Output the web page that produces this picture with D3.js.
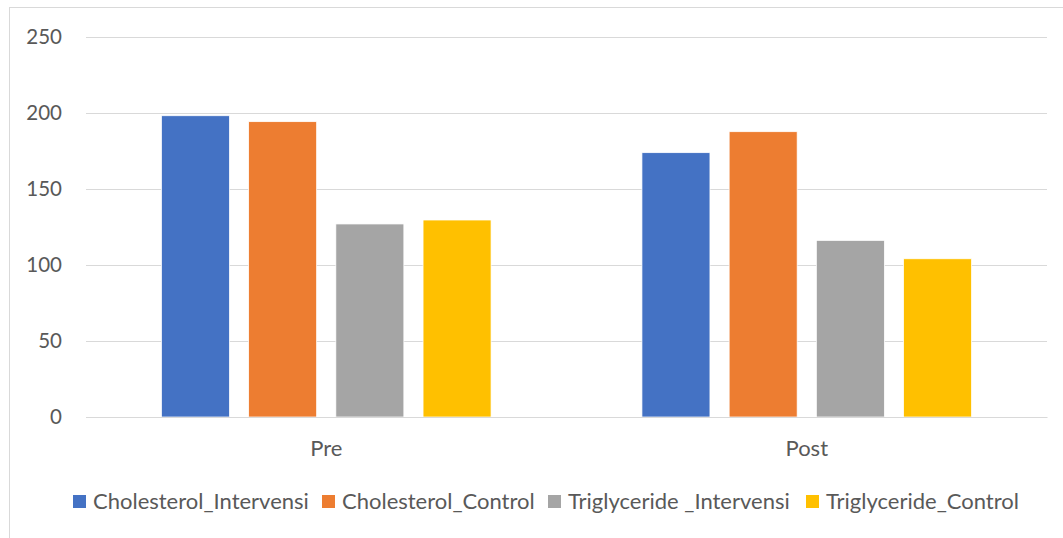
<!DOCTYPE html>
<html><head><meta charset="utf-8">
<script src="https://cdn.jsdelivr.net/npm/d3@7"></script>
<style>
html,body{margin:0;padding:0;background:#fff;}
svg{display:block;}
text{font-family:Lato,"Open Sans",sans-serif;fill:#595959;}
</style></head>
<body>
<svg id="chart" width="1063" height="538"></svg>
<script>
const categories = ["Pre", "Post"];
const seriesNames = ["Cholesterol_Intervensi", "Cholesterol_Control", "Triglyceride _Intervensi", "Triglyceride_Control"];
const cholesterolIntervensi = [198.2, 173.9];
const cholesterolControl = [194.3, 187.7];
const triglycerideIntervensi = [127.0, 116.2];
const triglycerideControl = [129.6, 104.1];
const yTicks = [0, 50, 100, 150, 200, 250];
const colors = ["#4472C4", "#ED7D31", "#A5A5A5", "#FFC000"];

const seriesValues = [cholesterolIntervensi, cholesterolControl, triglycerideIntervensi, triglycerideControl];

const svg = d3.select("#chart");
const plot = {left: 86, right: 1047, top: 37, bottom: 417};

// outer frame
svg.append("rect").attr("x", 9.5).attr("y", 7.5).attr("width", 1100).attr("height", 600)
  .attr("fill", "none").attr("stroke", "#d9d9d9").attr("stroke-width", 1);

const y = d3.scaleLinear().domain([0, 250]).range([plot.bottom, plot.top]);
const x0 = d3.scaleBand().domain(categories).range([plot.left, plot.right]).paddingInner(0).paddingOuter(0);
const x1 = d3.scaleBand().domain(seriesNames).range([0, x0.bandwidth()]).paddingInner(0.22).paddingOuter(0.865);

// gridlines
const yAxis = d3.axisLeft(y).tickValues(yTicks).tickSize(-(plot.right - plot.left)).tickPadding(24);
const gy = svg.append("g").attr("transform", `translate(${plot.left},0)`).call(yAxis);
gy.select(".domain").remove();
gy.selectAll(".tick line").attr("stroke", "#d9d9d9").attr("stroke-width", 1);
gy.selectAll(".tick text").attr("font-size", 20.5).attr("fill", "#595959")
  .style("font-family", "Lato, 'Open Sans', sans-serif");

// bars
const groups = svg.append("g").selectAll("g").data(categories).join("g")
  .attr("transform", d => `translate(${x0(d)},0)`);
groups.selectAll("rect").data((c, ci) => seriesNames.map((s, si) => ({s, si, v: seriesValues[si][ci]})))
  .join("rect")
  .attr("x", d => x1(d.s))
  .attr("width", x1.bandwidth())
  .attr("y", d => y(d.v))
  .attr("height", d => y(0) - y(d.v))
  .attr("fill", d => colors[d.si])
  .attr("stroke", "#fff").attr("stroke-width", 0.75);

// x axis
const xAxis = d3.axisBottom(x0).tickSize(0).tickPadding(23);
const gx = svg.append("g").attr("transform", `translate(0,${plot.bottom})`).call(xAxis);
gx.select(".domain").attr("stroke", "#d9d9d9").attr("stroke-width", 1);
gx.selectAll(".tick text").attr("font-size", 22).attr("fill", "#595959")
  .style("font-family", "Lato, 'Open Sans', sans-serif");

// legend
const legendX = [73, 322, 548, 806];
const legend = svg.append("g");
seriesNames.forEach((s, i) => {
  legend.append("rect").attr("x", legendX[i]).attr("y", 495).attr("width", 13).attr("height", 13).attr("fill", colors[i]);
  legend.append("text").attr("x", legendX[i] + 20).attr("y", 509).attr("font-size", 22).text(s);
});
</script>
</body></html>
